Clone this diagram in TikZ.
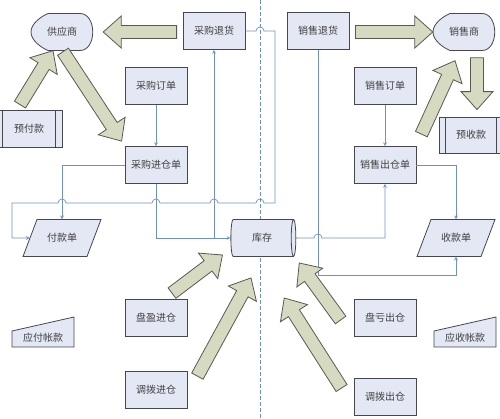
\documentclass[tikz,border=0pt]{standalone}
\usepackage{fontspec}
\newfontfamily\cjk{Noto Sans CJK SC}
\usetikzlibrary{calc, shapes.geometric, backgrounds}

\definecolor{boxfill}{RGB}{228,232,245}
\definecolor{boxline}{RGB}{70,70,78}
\definecolor{linkblue}{RGB}{112,146,190}
\definecolor{arrfill}{RGB}{214,218,192}
\definecolor{arrline}{RGB}{88,90,80}

% thick block arrow from #1 (tail) to #2 (tip)
\newcommand{\fatarrow}[2]{%
    \coordinate (fa1) at (#1);
    \coordinate (fa2) at (#2);
    \coordinate (fab) at ($(fa2)!18pt!(fa1)$);
    \draw[bigarrow] ($(fa1)!6.5pt!90:(fa2)$) -- ($(fab)!6.5pt!-90:(fa1)$) -- ($(fab)!16pt!-90:(fa1)$)
        -- (fa2) -- ($(fab)!16pt!90:(fa1)$) -- ($(fab)!6.5pt!90:(fa1)$) -- ($(fa1)!6.5pt!-90:(fa2)$) -- cycle;
}

\begin{document}
\begin{tikzpicture}[x=1pt, y=-1pt, >=stealth,
        label text/.style={font=\cjk\fontsize{10}{12}\selectfont, text=black!75, inner sep=0pt},
        outline/.style={draw=boxline, fill=boxfill, line width=0.8pt},
        proc/.style={label text, outline, minimum width=62, minimum height=37},
        dispnode/.style={label text, minimum width=62, minimum height=37},
        predef/.style={proc, minimum width=64, minimum height=36},
        slip/.style={label text, minimum width=64, minimum height=37},
        store/.style={label text, outline, cylinder, shape aspect=0.5, minimum width=37, minimum height=65},
        link/.style={draw=linkblue, line width=0.7pt},
        divider/.style={draw=linkblue, line width=0.9pt, dash pattern=on 4pt off 2pt},
        bigarrow/.style={draw=arrline, fill=arrfill, line width=0.8pt, line join=miter}]
    \useasboundingbox (0,0) rectangle (500,418);

    \draw[divider] (260,0) -- (260,418);

    % nodes
    \node[dispnode] (gys) at (62,32) {供应商};
    \node[dispnode] (xss) at (464,32) {销售商};
    \node[proc] (cgth) at (214,31) {采购退货};
    \node[proc] (xsth) at (318,31) {销售退货};
    \node[proc] (cgdd) at (156,86) {采购订单};
    \node[proc] (xsdd) at (385,86) {销售订单};
    \node[predef, minimum width=66, minimum height=37] (yfk) at (29,128.5) {预付款};
    \node[predef] (yusk) at (471,135) {预收款};
    \node[proc] (cgjcd) at (156,165) {采购进仓单};
    \node[proc] (xsccd) at (385,165) {销售出仓单};
    \node[slip] (fkd) at (62,238) {付款单};
    \node[slip] (skd) at (456,238) {收款单};
    \node[store] (kc) at (262,238) {库存};
    \node[proc] (pyjc) at (156,318) {盘盈进仓};
    \node[proc] (pkcc) at (385,318) {盘亏出仓};
    \node[proc] (tbjc) at (156,390) {调拨进仓};
    \node[proc] (tbcc) at (385,397) {调拨出仓};
    \node[label text] (yfzk) at (43,338) {应付帐款};
    \node[label text] (yszk) at (465,338) {应收帐款};

    \begin{scope}[on background layer]
        \foreach \n in {gys, xss}
            \draw[outline, shift={(\n)}] (-14,-18.5) -- (18,-18.5) .. controls (35,-18.5) and (35,18.5) .. (18,18.5)
                -- (-14,18.5) .. controls (-22,15) and (-31,8) .. (-31,0) .. controls (-31,-8) and (-22,-15) .. cycle;
        \foreach \n in {fkd, skd}
            \draw[outline, shift={(\n)}] (-39,18.5) -- (25,18.5) -- (39,-18.5) -- (-25,-18.5) -- cycle;
        \foreach \n in {yfzk, yszk}
            \draw[outline, shift={(\n)}] (-31,9) -- (31,9) -- (31,-21) -- (-31,-7) -- cycle;
    \end{scope}

    \foreach \n in {yfk, yusk} {
        \draw[draw=boxline, line width=0.8pt] ($(\n.north west)+(7,0)$) -- ($(\n.south west)+(7,0)$);
        \draw[draw=boxline, line width=0.8pt] ($(\n.north east)+(-7,0)$) -- ($(\n.south east)+(-7,0)$);
    }

    % connectors
    \draw[link,->] (cgdd) -- (cgjcd);
    \draw[link,->] (xsdd) -- (xsccd);
    \draw[link,->] (cgjcd.west) -| (fkd.north);
    \draw[link,->] (cgjcd.south) |- (kc.west);
    \coordinate (j1) at (cgth.south |- kc.west);
    \draw[link,->] (j1) -- (cgth.south);
    \draw[link,->] (cgth.east) -- (256,31) arc (180:360:4) -- (275,31) -- (275,203)
        -- (264,203) arc (0:-180:4) -- (218,203) arc (0:-180:4) -- (160,203) arc (0:-180:4)
        -- (66,203) arc (0:-180:4) -- (12,203) |- (fkd.west);
    \draw[link,->] (kc.east) -- (314,238) arc (180:360:4) -| (xsccd.south);
    \draw[link,->] (xsccd.east) -| (skd.north);
    \draw[link,->] (xsth.south) -- (318,275) -| (skd.south);

    % block arrows
    \fatarrow{$(cgth.west)+(-6,1)$}{$(gys.east)+(10,0)$}
    \fatarrow{$(yfk.north)+(-9,-5)$}{$(gys.south)+(-9,0)$}
    \fatarrow{$(gys.south)+(1,1)$}{$(cgjcd.north west)+(-3,-5)$}
    \fatarrow{$(xsth.east)+(6,1)$}{xss.west}
    \fatarrow{$(xsccd.north east)+(5,-12)$}{$(xss.south)+(-9,10)$}
    \fatarrow{$(xss.south)+(13,7)$}{$(yusk.north)+(6,-7)$}
    \fatarrow{$(pyjc.north)+(16,-6)$}{$(kc.west)+(-8,17)$}
    \fatarrow{$(tbjc.north east)+(10,5)$}{$(kc.south)+(-11,21)$}
    \fatarrow{$(pkcc.west)+(-13,2)$}{$(kc.east)+(3,25)$}
    \fatarrow{$(tbcc.west)+(-12,-9)$}{$(kc.east)+(-12,60)$}
\end{tikzpicture}
\end{document}
